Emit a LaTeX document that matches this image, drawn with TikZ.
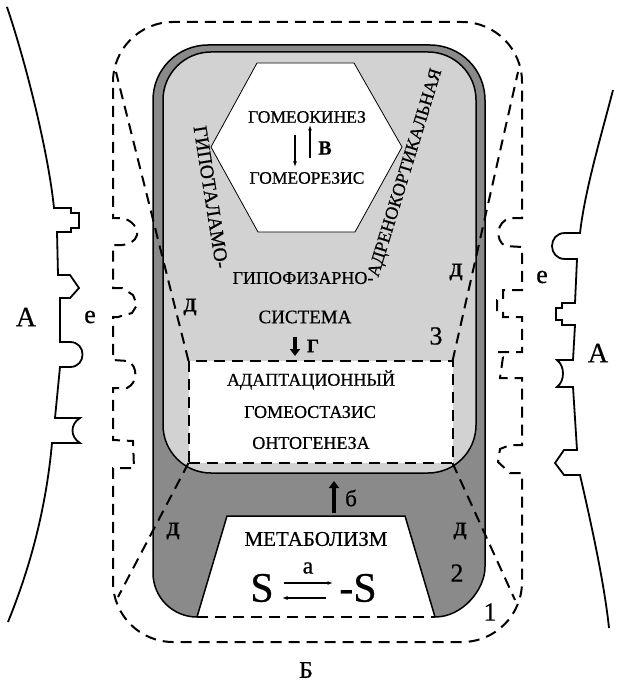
\documentclass[tikz,border=0pt]{standalone}
\usepackage{fontspec}
\setmainfont{Liberation Serif}[FakeBold=0.6]
\usetikzlibrary{arrows.meta}
\definecolor{darkg}{RGB}{138,138,138}
\definecolor{lightg}{RGB}{210,210,210}
\tikzset{
  dsh/.style={line width=2pt, dash pattern=on 11pt off 7pt},
  bd/.style={line width=1.5pt},
  body/.style={line width=1.8pt},
  txt/.style={inner sep=0pt, outer sep=0pt, font=\fontsize{#1}{#1}\selectfont},
  btxt/.style={inner sep=0pt, outer sep=0pt, font=\fontsize{#1}{#1}\selectfont\bfseries},
  fatarrow/.style={line width=4.5pt, -{Triangle[length=7pt,width=10pt]}},
  thinarrow/.style={line width=1.1pt, -{Latex[length=5.5pt,width=4pt]}},
}
\begin{document}
\begin{tikzpicture}[x=1pt,y=-1pt]
\useasboundingbox (0,0) rectangle (619,687);

% ---- left body contour A
\draw[body] (7,7) .. controls (25,60) and (48,150) .. (54,208) -- (71,208) -- (71,213) -- (79,213) -- (79,228) -- (71,228) -- (71,232) -- (57,232)
  -- (58,275) -- (70,275) -- (79,288) -- (70,298) -- (60,298)
  -- (60,342) -- (70,342) .. controls (86.7,342) and (86.7,367) .. (70,367) -- (60,367)
  -- (55,418) -- (80,418) .. controls (70,424) and (70,437) .. (80,443) -- (52,443)
  .. controls (45,520) and (25,580) .. (8,622);

% ---- right body contour A
\draw[body] (613,90) .. controls (600,140) and (585,190) .. (580,233) -- (565,233) .. controls (547.7,233) and (547.7,259) .. (565,259) -- (577,259)
  -- (575,303) -- (562,303) -- (562,308) -- (556,308) -- (556,320) -- (562,320) -- (562,325) -- (575,325)
  -- (573,360) -- (557,360) .. controls (565,366) and (565,381) .. (557,387) -- (573,387)
  -- (577,450) -- (564,450) -- (555,463) -- (564,475) -- (580,475)
  .. controls (595,540) and (605,590) .. (609,628);

% ---- outer dashed contour 1 with e notches
\draw[dsh] (113,82) .. controls (113,48.9) and (139.9,22) .. (173,22) -- (462,22)
  .. controls (495.1,22) and (522,48.9) .. (522,82)
  -- (522,218) -- (510,218) .. controls (496,222) and (495,240) .. (505,246) -- (522,247)
  -- (522,290) -- (503,290) -- (503,300) -- (497,300) -- (497,310) -- (503,310) -- (503,317) -- (522,317)
  -- (522,352) -- (498,352) -- (503,357) -- (500,378) -- (522,378)
  -- (522,445) -- (510,445) -- (500,449) -- (498,462) -- (510,473) -- (522,473)
  -- (522,582) .. controls (522,615.1) and (495.1,642) .. (462,642) -- (173,642)
  .. controls (139.9,642) and (113,615.1) .. (113,582)
  -- (113,468) -- (134,468) -- (133,441) -- (113,440)
  -- (113,388) -- (127,388) .. controls (138,383) and (138,366) .. (128,361) -- (113,360)
  -- (113,317) -- (118,317) -- (132,313) -- (137,305) -- (133,295) -- (122,288) -- (113,288)
  -- (113,245) -- (122,245) .. controls (128,245) and (136,241) .. (137,235) .. controls (138,228) and (132,220) .. (122,218) -- (113,218)
  -- cycle;

% ---- dark shape 2
\draw[bd, fill=darkg] (197,617) -- (227,516) -- (405,516) -- (435,617)
  .. controls (462.6,617) and (485,589.4) .. (485,567)
  -- (485,100) .. controls (485,69.6) and (460.4,45) .. (430,45)
  -- (208,45) .. controls (177.6,45) and (153,69.6) .. (153,100)
  -- (153,573) .. controls (153,597.3) and (172.7,617) .. (197,617) -- cycle;
\draw[dsh] (197,617) -- (435,617);

% ---- light shape 3
\draw[bd, fill=lightg, rounded corners=48pt] (163,52) rectangle (476,473);

% ---- hexagon
\draw[line width=0.8pt, fill=white] (211,147) -- (257,63) -- (354,63) -- (402,147) -- (355,232) -- (258,232) -- cycle;

% ---- adaptation box
\node[dsh, draw, fill=white, inner sep=0pt, outer sep=0pt, minimum width=264pt, minimum height=102pt] (adapt) at (320.5,412) {};

% ---- д lines
\coordinate (ul) at (116,72);
\coordinate (ur) at (518,72);
\coordinate (ll) at (118,597);
\coordinate (lr) at (515,600);
\draw[dsh] (adapt.north west) -- (ul);
\draw[dsh] (adapt.north east) -- (ur);
\draw[dsh] (adapt.south west) -- (ll);
\draw[dsh] (adapt.south east) -- (lr);

% ---- texts
\node[txt=17.5] (kin) at (307,117) {ГОМЕОКИНЕЗ};
\node[txt=17.5] (rez) at (307,178) {ГОМЕОРЕЗИС};
\coordinate (v1a) at (295,135); \coordinate (v1b) at (295,167);
\coordinate (v2a) at (310,158); \coordinate (v2b) at (310,125);
\draw[thinarrow] (v1a) -- (v1b);
\draw[thinarrow] (v2a) -- (v2b);
\node[btxt=20] (vlab) at (325,148) {В};

\node[txt=19.5, rotate=-81] (gipo) at (211,197) {ГИПОТАЛАМО-};
\node[txt=18, rotate=73] (adren) at (406,173) {АДРЕНОКОРТИКАЛЬНАЯ};
\node[txt=18] (gipof) at (303,278) {ГИПОФИЗАРНО-};
\node[txt=19] (sist) at (305,317) {СИСТЕМА};
\coordinate (ga) at (295,337); \coordinate (gb) at (295,356);
\draw[fatarrow] (ga) -- (gb);
\node[btxt=19] (glab) at (313,346) {Г};
\node[txt=26] (n3) at (436,336) {3};
\node[btxt=19] (d1) at (190,307) {Д};
\node[btxt=19] (d2) at (456,272) {Д};

\node[txt=18] (ad1) at (311,380) {АДАПТАЦИОННЫЙ};
\node[txt=18] (ad2) at (310,412) {ГОМЕОСТАЗИС};
\node[txt=18] (ad3) at (311,443) {ОНТОГЕНЕЗА};

\coordinate (ba) at (334,513); \coordinate (bb) at (334,481);
\draw[fatarrow] (ba) -- (bb);
\node[txt=23] (blab) at (351,498) {б};

\node[txt=21] (met) at (316,539) {МЕТАБОЛИЗМ};
\node[txt=42] (s1) at (262,588) {S};
\node[txt=42] (s2) at (358,588) {-S};
\coordinate (sa) at (284,583); \coordinate (sb) at (333,583);
\coordinate (sc) at (326,598); \coordinate (sd) at (282,598);
\draw[thinarrow] (sa) -- (sb);
\draw[thinarrow] (sc) -- (sd);
\node[txt=24] (alab) at (308,568) {а};

\node[btxt=19] (d3) at (173,531) {Д};
\node[btxt=19] (d4) at (460,531) {Д};
\node[txt=26] (n2) at (457,573) {2};
\node[txt=26] (n1) at (490,612) {1};

\node[txt=28] (aL) at (26,317) {А};
\node[txt=26] (eL) at (90,317) {е};
\node[txt=26] (eR) at (542,277) {е};
\node[txt=28] (aR) at (598,353) {А};
\node[txt=24] (bB) at (306,670) {Б};
\end{tikzpicture}
\end{document}
